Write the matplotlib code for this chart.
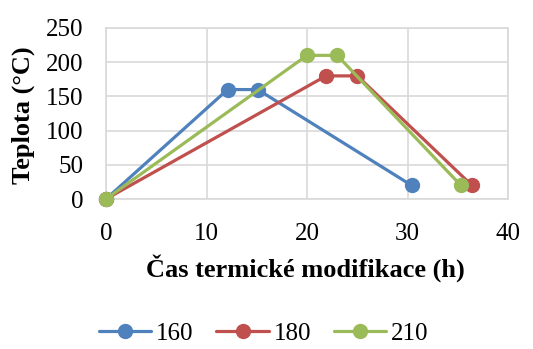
import matplotlib.pyplot as plt

plt.rcParams['font.family'] = ['Liberation Serif', 'DejaVu Serif']

# heating profiles for three treatment temperatures
series_names = ["160", "180", "210"]
time_160 = [0, 12.1, 15.1, 30.4]
temp_160 = [0, 160, 160, 20]
time_180 = [0, 21.9, 25.0, 36.4]
temp_180 = [0, 180, 180, 20]
time_210 = [0, 20.0, 23.0, 35.3]
temp_210 = [0, 210, 210, 20]

colors = ["#4F81BD", "#C0504D", "#9BBB59"]

fig = plt.figure(figsize=(5.33, 3.49), dpi=100)
ax = fig.add_axes([106 / 533, 1 - 199 / 349, 402 / 533, 171 / 349])

for t, y, name, c in zip([time_160, time_180, time_210],
                         [temp_160, temp_180, temp_210],
                         series_names, colors):
    ax.plot(t, y, color=c, lw=2.3, marker="o", ms=10, label=name,
            solid_capstyle="round", clip_on=False, zorder=3)

ax.set_xlim(0, 40)
ax.set_ylim(0, 250)
ax.set_xticks(range(0, 41, 10))
ax.set_yticks(range(0, 251, 50))
ax.grid(True, color="#D9D9D9", lw=1.2)
ax.set_axisbelow(True)
for s in ax.spines.values():
    s.set_color("#D9D9D9")
    s.set_linewidth(1.2)
ax.tick_params(length=0, labelsize=18)
ax.tick_params(axis="x", pad=17)
ax.tick_params(axis="y", pad=16)

ax.set_xlabel("Čas termické modifikace (h)", fontsize=19, fontweight="bold")
ax.set_ylabel("Teplota (°C)", fontsize=19, fontweight="bold")
ax.xaxis.set_label_coords(0.495, -0.32)
ax.yaxis.set_label_coords(-0.177, 0.49)

fig.legend(loc="center", bbox_to_anchor=(0.495, 0.045), ncol=3, frameon=False,
           fontsize=18, handlelength=2.1, columnspacing=0.9, handletextpad=0.2,
           borderpad=0.1)

fig.savefig("out.png", dpi=100)
